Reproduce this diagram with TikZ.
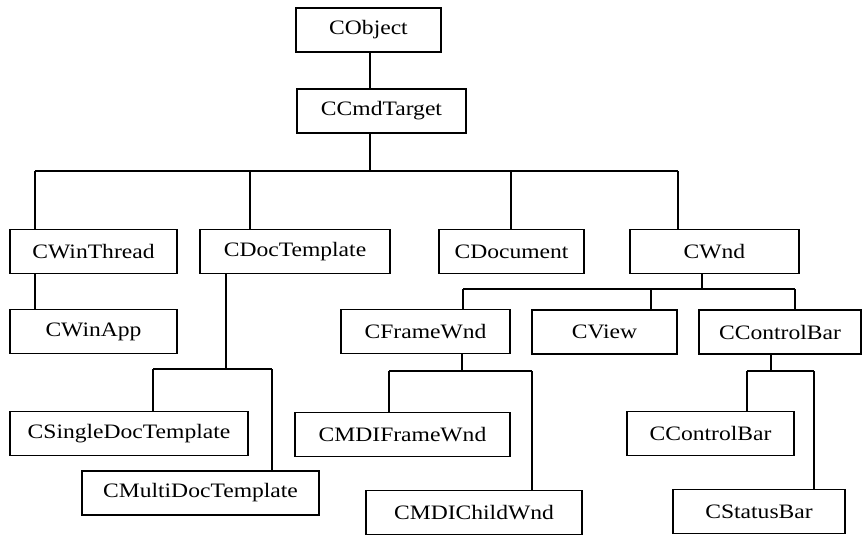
\documentclass[tikz,border=0pt]{standalone}
\usepackage{fontspec}
\newfontfamily\boxfont{Liberation Serif}[FakeStretch=1.15]
\usepackage{tikz}

\begin{document}
\begin{tikzpicture}[x=1pt,y=-1pt,line width=1.8pt,
	cls/.style={draw,rectangle,minimum height=44pt,inner sep=0pt,font=\boxfont\fontsize{20.5}{24}\selectfont}]
	\useasboundingbox (0,0) rectangle (862,536);
	
	\node[cls,minimum width=145pt] (obj) at (368.5,30) {CObject};
	\node[cls,minimum width=169pt] (cmd) at (381.5,111) {CCmdTarget};
	
	\node[cls,minimum width=167pt] (thr) at (93.5,251.5) {CWinThread};
	\node[cls,minimum width=190pt] (dtp) at (295,251.5) {CDocTemplate};
	\node[cls,minimum width=145pt] (doc) at (511.5,251.5) {CDocument};
	\node[cls,minimum width=169pt] (wnd) at (714.5,251.5) {CWnd};
	
	\node[cls,minimum width=167pt] (app) at (93.5,331.5) {CWinApp};
	\node[cls,minimum width=238pt] (sdt) at (129,433.5) {CSingleDocTemplate};
	\node[cls,minimum width=237pt] (mdt) at (200.5,493) {CMultiDocTemplate};
	
	\node[cls,minimum width=169pt] (frm) at (425.5,331.5) {CFrameWnd};
	\node[cls,minimum width=145pt] (view) at (604.5,332) {CView};
	\node[cls,minimum width=162pt] (cbar) at (780,332) {CControlBar};
	
	\node[cls,minimum width=215pt] (mfr) at (402.5,434.5) {CMDIFrameWnd};
	\node[cls,minimum width=216pt] (mch) at (474,512.5) {CMDIChildWnd};
	\node[cls,minimum width=167pt] (cb2) at (710.5,433.5) {CControlBar};
	\node[cls,minimum width=172pt] (sbar) at (759,511.5) {CStatusBar};
	
	% bus under CCmdTarget
	\coordinate (t0) at (370,171);
	\coordinate (t1) at (35,171);
	\coordinate (t2) at (250,171);
	\coordinate (t3) at (511,171);
	\coordinate (t4) at (678,171);
	\draw (obj.south -| t0) -- (cmd.north -| t0);
	\draw (cmd.south -| t0) -- (t0);
	\draw (t1) -- (t4);
	\draw (t1) -- (t1 |- thr.north);
	\draw (t2) -- (t2 |- dtp.north);
	\draw (t3) -- (t3 |- doc.north);
	\draw (t4) -- (t4 |- wnd.north);
	
	\draw (thr.south -| t1) -- (app.north -| t1);
	
	% bus under CDocTemplate
	\coordinate (d0) at (226,369);
	\coordinate (d1) at (153,369);
	\coordinate (d2) at (272,369);
	\draw (dtp.south -| d0) -- (d0);
	\draw (d1) -- (d2);
	\draw (d1) -- (d1 |- sdt.north);
	\draw (d2) -- (d2 |- mdt.north);
	
	% bus under CWnd
	\coordinate (w0) at (702,289);
	\coordinate (w1) at (463,289);
	\coordinate (w2) at (651,289);
	\coordinate (w3) at (795,289);
	\draw (wnd.south -| w0) -- (w0);
	\draw (w1) -- (w3);
	\draw (w1) -- (w1 |- frm.north);
	\draw (w2) -- (w2 |- view.north);
	\draw (w3) -- (w3 |- cbar.north);
	
	% bus under CFrameWnd
	\coordinate (f0) at (462,371);
	\coordinate (f1) at (389,371);
	\coordinate (f2) at (532,371);
	\draw (frm.south -| f0) -- (f0);
	\draw (f1) -- (f2);
	\draw (f1) -- (f1 |- mfr.north);
	\draw (f2) -- (f2 |- mch.north);
	
	% bus under CControlBar
	\coordinate (c0) at (771,371);
	\coordinate (c1) at (747,371);
	\coordinate (c2) at (814,371);
	\draw (cbar.south -| c0) -- (c0);
	\draw (c1) -- (c2);
	\draw (c1) -- (c1 |- cb2.north);
	\draw (c2) -- (c2 |- sbar.north);
\end{tikzpicture}
\end{document}
